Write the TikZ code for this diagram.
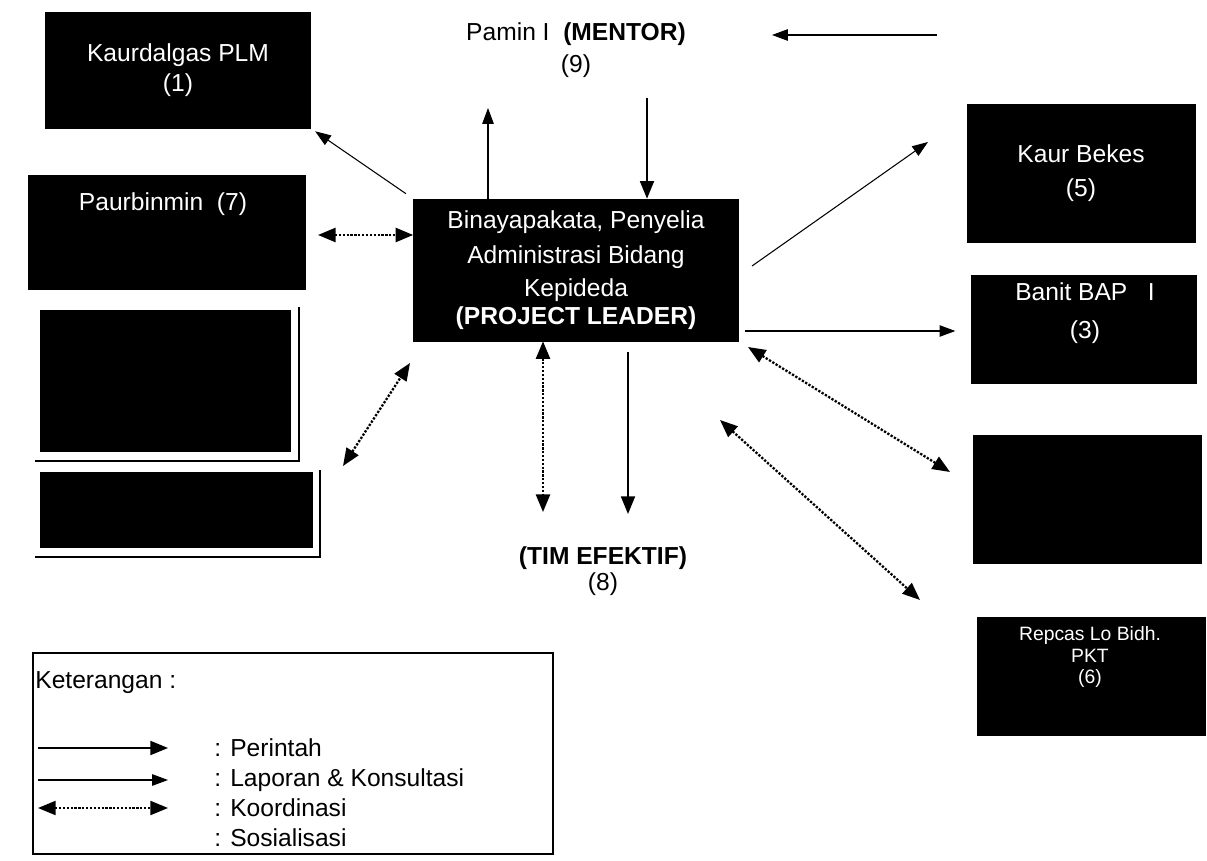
\documentclass[tikz,border=0pt]{standalone}
\usepackage{fontspec}
\setmainfont{Liberation Sans}
\usetikzlibrary{arrows.meta}

\begin{document}
\begin{tikzpicture}[x=0.02cm,y=-0.02cm,inner sep=0pt,
        font=\fontsize{14}{17}\selectfont,
        kotak/.style={fill=black,draw=black,text=white,align=center},
        putih/.style={text=white,align=center},
        perintah/.style={line width=0.9pt,-{Triangle[length=10pt,width=8pt]}},
        lapor/.style={line width=0.6pt,-{Triangle[length=9pt,width=6.5pt]}},
        koord/.style={line width=1.3pt,dash pattern=on 1.3pt off 0.9pt,
            {Triangle[length=10pt,width=8pt]}-{Triangle[length=10pt,width=8pt]}},
        bayang/.style={line width=1.2pt}]
        \useasboundingbox (0,0) rectangle (1207,861);

        \coordinate (b) at (488,108);
        \coordinate (c) at (647,98);
        \coordinate (d1) at (937,35);
        \coordinate (d2) at (772,35);
        \coordinate (e) at (318,235);
        \coordinate (f1) at (343,466);
        \coordinate (f2) at (410,363);
        \coordinate (g1) at (752,266);
        \coordinate (g2) at (928,142);
        \coordinate (h) at (745,331);
        \coordinate (i1) at (748,347);
        \coordinate (i2) at (950,472);
        \coordinate (j1) at (720,420);
        \coordinate (j2) at (920,600);
        \coordinate (k) at (543,512);
        \coordinate (l) at (628,514);

        \node[kotak,minimum width=5.3cm,minimum height=2.32cm] (L1) at (178,70)
            {Kaurdalgas PLM\\(1)};
        \node[kotak,minimum width=5.54cm,minimum height=2.28cm] (L2) at (167,232) {};
        \node[putih] (L2t) at (163,204) {Paurbinmin\ \ (7)};
        \draw[bayang] (35,461) -- (299,461) -- (299,307);
        \node[kotak,minimum width=5cm,minimum height=2.82cm] (L3) at (165,381) {};
        \draw[bayang] (35,557) -- (320,557) -- (320,470);
        \node[kotak,minimum width=5.44cm,minimum height=1.5cm] (L4) at (176,510) {};

        \node[kotak,minimum width=6.5cm,minimum height=2.84cm] (PL) at (576,270)
            {Binayapakata, Penyelia\\[3pt]Administrasi Bidang\\[2pt]Kepideda\\[-1pt]
            \textbf{(PROJECT LEADER)}};

        \node[kotak,minimum width=4.56cm,minimum height=2.76cm] (R1) at (1081,173)
            {Kaur Bekes\\[2pt](5)};
        \node[kotak,minimum width=4.5cm,minimum height=2.16cm] (R2) at (1084,329) {};
        \node[putih] (R2t) at (1085,313) {Banit BAP\ \ \ I\\[5pt](3)};
        \node[kotak,minimum width=4.56cm,minimum height=2.56cm] (R3) at (1087,499) {};
        \node[kotak,minimum width=4.56cm,minimum height=2.36cm] (R4) at (1091,676) {};
        \node[putih,font=\fontsize{11}{12.5}\selectfont] (R4t) at (1090,657)
            {Repcas Lo Bidh.\\PKT\\(6)};

        \node[align=center] (M) at (576,50) {Pamin I\ \ \textbf{(MENTOR)}\\[1.5pt](9)};
        \node[align=center] (T) at (603,571) {\textbf{(TIM EFEKTIF)}\\[-2pt](8)};

        \draw[lapor,shorten <=5pt,shorten >=3pt] (PL.north west) -- (L1.south east);
        \draw[lapor] (PL.north -| b) -- (b);
        \draw[perintah] (c) -- (PL.north -| c);
        \draw[lapor] (d1) -- (d2);
        \draw[koord] (e) -- (PL.west |- e);
        \draw[koord] (f1) -- (f2);
        \draw[lapor] (g1) -- (g2);
        \draw[lapor,shorten >=9pt] (h) -- (R2.west |- h);
        \draw[koord] (i1) -- (i2);
        \draw[koord] (j1) -- (j2);
        \draw[koord] (PL.south -| k) -- (k);
        \draw[perintah,shorten <=6pt] (PL.south -| l) -- (l);

        \draw[line width=0.9pt] (33,653) rectangle (553,854);
        \node[anchor=west] (ket) at (35,683) {Keterangan :};
        \draw[perintah] (38,748) -- (168,748);
        \draw[lapor] (38,780) -- (168,780);
        \draw[koord,line width=1pt] (38,808) -- (168,808);
        \node[anchor=west] (n1) at (214,748) {: Perintah};
        \node[anchor=west] (n2) at (214,780) {: Laporan \& Konsultasi};
        \node[anchor=west] (n3) at (214,808) {: Koordinasi};
        \node[anchor=west] (n4) at (214,838) {: Sosialisasi};
    \end{tikzpicture}
\end{document}
